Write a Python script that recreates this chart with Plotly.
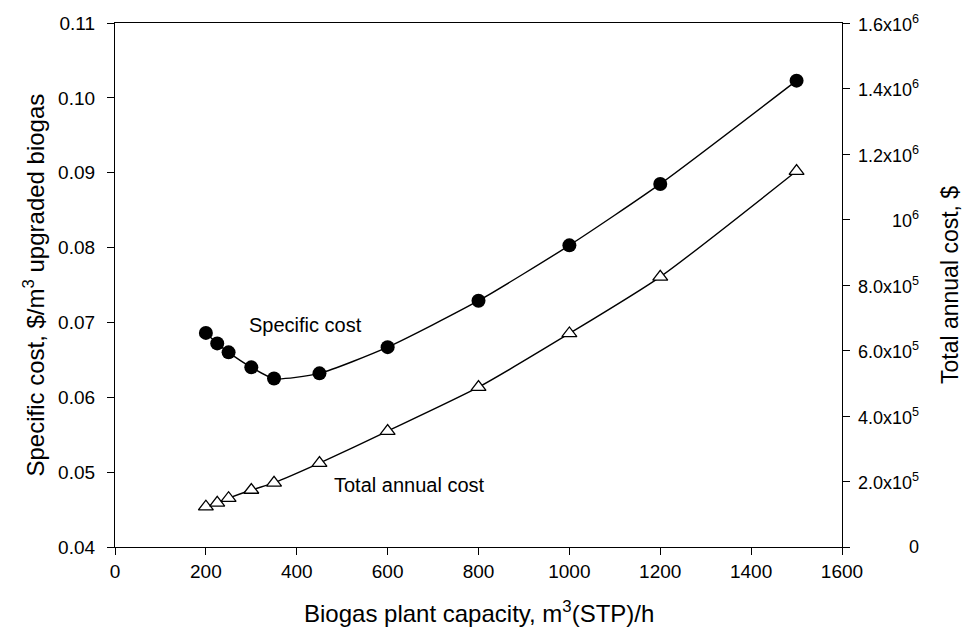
import plotly.graph_objects as go

capacity = [200, 225, 250, 300, 350, 450, 600, 800, 1000, 1200, 1500]
specific_cost = [0.0686, 0.0672, 0.0660, 0.0640, 0.0625, 0.0632, 0.0667, 0.0729, 0.0803, 0.0885, 0.1023]
total_cost = [1.23e5, 1.35e5, 1.49e5, 1.74e5, 1.96e5, 2.56e5, 3.54e5, 4.88e5, 6.52e5, 8.25e5, 1.148e6]

x_ticks = [0, 200, 400, 600, 800, 1000, 1200, 1400, 1600]
left_ticks = [0.04, 0.05, 0.06, 0.07, 0.08, 0.09, 0.10, 0.11]
right_ticks = [0, 2e5, 4e5, 6e5, 8e5, 1e6, 1.2e6, 1.4e6, 1.6e6]
right_labels = ["0", "2.0x10<sup>5</sup>", "4.0x10<sup>5</sup>", "6.0x10<sup>5</sup>",
                "8.0x10<sup>5</sup>", "10<sup>6</sup>", "1.2x10<sup>6</sup>",
                "1.4x10<sup>6</sup>", "1.6x10<sup>6</sup>"]

FONT = "Liberation Sans, Arial, sans-serif"

fig = go.Figure()
fig.add_trace(go.Scatter(
    x=capacity, y=specific_cost, mode="lines+markers",
    line=dict(color="black", width=1.4, shape="spline", smoothing=0.6),
    marker=dict(symbol="circle", size=14, color="black"),
    yaxis="y", showlegend=False))
fig.add_trace(go.Scatter(
    x=capacity, y=total_cost, mode="lines+markers",
    line=dict(color="black", width=1.4, shape="spline", smoothing=0.6),
    marker=dict(symbol="triangle-up", size=13, color="white",
                line=dict(color="black", width=1.3)),
    yaxis="y2", showlegend=False))

fig.update_layout(
    width=972, height=634,
    margin=dict(l=115, r=130, t=23, b=87),
    paper_bgcolor="white", plot_bgcolor="white",
    font=dict(family=FONT, size=20, color="black"),
    xaxis=dict(range=[0, 1600], tickvals=x_ticks, showgrid=False, zeroline=False,
               showline=True, linecolor="black", linewidth=1.3, mirror=True,
               ticks="outside", ticklen=7, tickwidth=1.2, tickcolor="black",
               tickfont=dict(size=19)),
    yaxis=dict(range=[0.04, 0.11], tickvals=left_ticks, tickformat=".2f",
               showgrid=False, zeroline=False, showline=True, linecolor="black",
               linewidth=1.3, ticks="outside", ticklen=7, tickwidth=1.2,
               tickcolor="black", tickfont=dict(size=19), ticklabelstandoff=8),
    yaxis2=dict(range=[0, 1.6e6], tickvals=right_ticks, overlaying="y", side="right",
                showgrid=False, zeroline=False, showline=True, linecolor="black",
                linewidth=1.3, ticks="outside", ticklen=7, tickwidth=1.2,
                tickcolor="black", showticklabels=False),
)

annotations = []
for v, t in zip(right_ticks, right_labels):
    annotations.append(dict(x=1.1087, xref="paper", y=v, yref="y2", text=t,
                            showarrow=False, xanchor="right", yanchor="middle",
                            font=dict(size=18)))
annotations += [
    dict(x=0.5, xref="paper", y=-0.124, yref="paper",
         text="Biogas plant capacity, m<sup>3</sup>(STP)/h", showarrow=False,
         xanchor="center", yanchor="middle", font=dict(size=24)),
    dict(x=-0.112, xref="paper", y=0.5, yref="paper", textangle=-90,
         text="Specific cost, $/m<sup>3</sup> upgraded biogas", showarrow=False,
         xanchor="center", yanchor="middle", font=dict(size=24)),
    dict(x=1.1486, xref="paper", y=0.5, yref="paper", textangle=-90,
         text="Total annual cost, $", showarrow=False,
         xanchor="center", yanchor="middle", font=dict(size=23)),
    dict(x=420, xref="x", y=0.0697, yref="y", text="Specific cost", showarrow=False,
         xanchor="center", yanchor="middle", font=dict(size=20)),
    dict(x=649, xref="x", y=0.0483, yref="y", text="Total annual cost", showarrow=False,
         xanchor="center", yanchor="middle", font=dict(size=20)),
]
fig.update_layout(annotations=annotations)

fig.write_html("out.html")
